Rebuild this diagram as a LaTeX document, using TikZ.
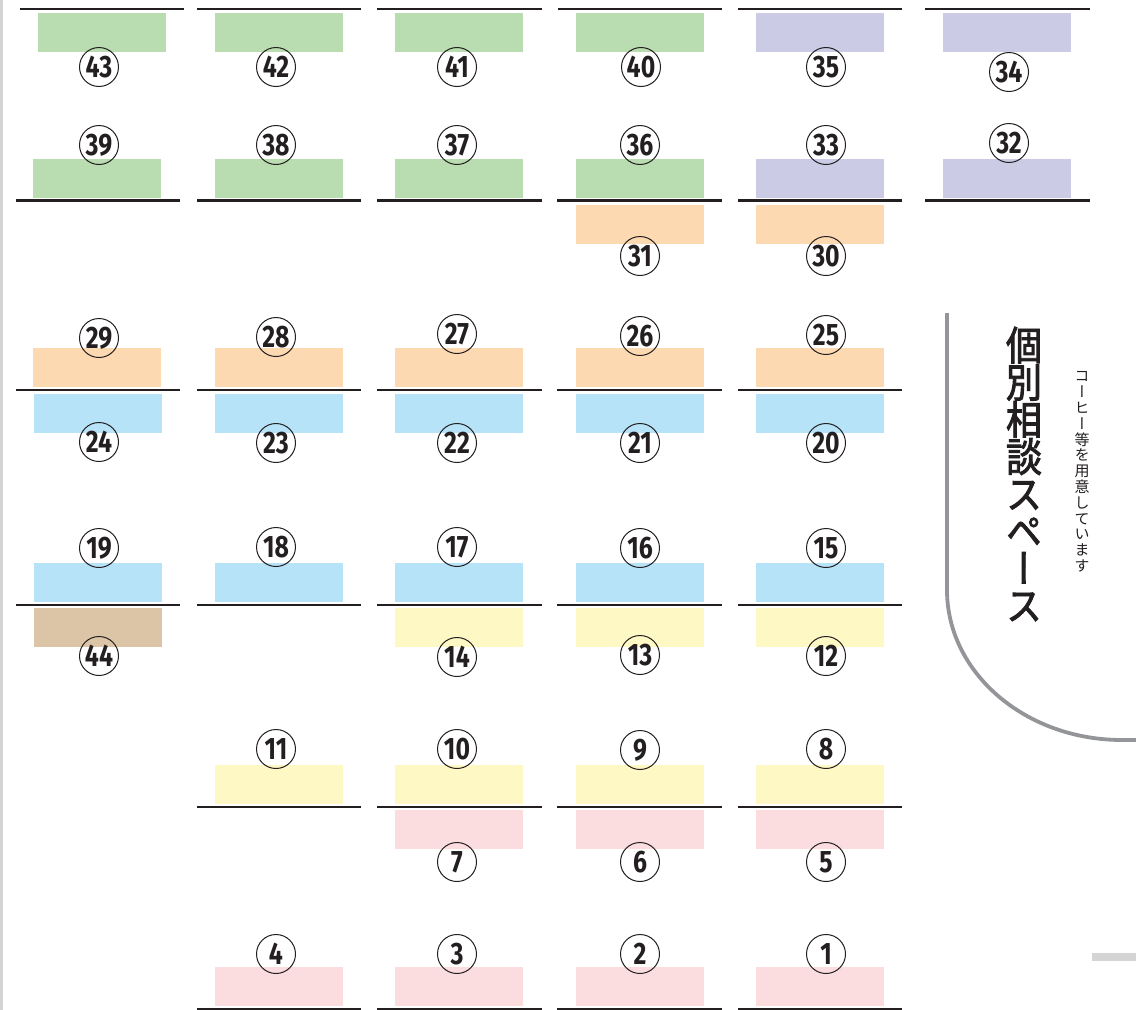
\documentclass[tikz,border=0pt]{standalone}
\usepackage{fontspec}
\newfontfamily\numfont[FakeStretch=0.8]{Fira Sans}
\newfontfamily\jpvert[RawFeature=+vert]{Noto Sans CJK JP}
\newfontfamily\jpbig[RawFeature=+vert,FakeStretch=0.9]{Noto Sans CJK JP}
\definecolor{cgreen}{HTML}{B9DCB0}
\definecolor{cpurple}{HTML}{CCCBE6}
\definecolor{corange}{HTML}{FDD9B1}
\definecolor{cblue}{HTML}{B7E3F8}
\definecolor{cyellow}{HTML}{FEF8C4}
\definecolor{cpink}{HTML}{FBDDE0}
\definecolor{ctan}{HTML}{DCC4A6}
\definecolor{cink}{HTML}{231F20}
\definecolor{ccurve}{HTML}{939598}
\definecolor{cedge}{HTML}{D4D4D4}
\begin{document}
\begin{tikzpicture}[x=1pt,y=-1pt,
  seatbox/.style={draw=none,minimum width=128pt,minimum height=39pt,inner sep=0pt},
  seatline/.style={draw=cink,line width=2.7pt},
  num/.style={circle,draw=cink,line width=1pt,minimum size=39pt,inner sep=0pt,
    text=cink,font=\numfont\bfseries\fontsize{31}{31}\selectfont,
    text height=21.3pt,text depth=0pt},
  curve/.style={draw=ccurve,line width=3.8pt}
]
\useasboundingbox (0,0) rectangle (1136,1010);
% left page edge
\fill[cedge] (0,0) rectangle (2.7,1010);
% seat boxes
\foreach \n/\x/\y/\c in {
  43/102/32.5/cgreen, 42/279/32.5/cgreen, 41/459/32.5/cgreen, 40/640/32.5/cgreen, 35/820/32.5/cpurple, 34/1007/32.5/cpurple,
  39/97/178.5/cgreen, 38/279/178.5/cgreen, 37/459/178.5/cgreen, 36/640/178.5/cgreen, 33/820/178.5/cpurple, 32/1007/178.5/cpurple,
  31/640/224.5/corange, 30/820/224.5/corange,
  29/97/367.5/corange, 28/279/367.5/corange, 27/459/367.5/corange, 26/640/367.5/corange, 25/820/367.5/corange,
  24/98/413.5/cblue, 23/279/413.5/cblue, 22/459/413.5/cblue, 21/640/413.5/cblue, 20/820/413.5/cblue,
  19/98/582.5/cblue, 18/279/582.5/cblue, 17/459/582.5/cblue, 16/640/582.5/cblue, 15/820/582.5/cblue,
  44/98/627.5/ctan, 14/459/627.5/cyellow, 13/640/627.5/cyellow, 12/820/627.5/cyellow,
  11/279/784.5/cyellow, 10/459/784.5/cyellow, 9/640/784.5/cyellow, 8/820/784.5/cyellow,
  7/459/829.5/cpink, 6/640/829.5/cpink, 5/820/829.5/cpink,
  4/279/986.5/cpink, 3/459/986.5/cpink, 2/640/986.5/cpink, 1/820/986.5/cpink}
  \node[seatbox,fill=\c] (b\n) at (\x,\y) {};
% table edges
\foreach \a/\b/\y in {
  20/184/9, 197/361/9, 377/542/9, 558/722/9, 738/902/9, 925/1090/9,
  16/180/200.5, 197/361/200.5, 377/542/200.5, 557/722/200.5, 738/902/200.5, 925/1090/200.5,
  16/180/390, 197/361/390, 377/542/390, 557/722/390, 738/902/390,
  16/180/605, 197/361/605, 377/542/605, 557/722/605, 738/902/605,
  197/361/807, 377/542/807, 557/722/807, 738/902/807,
  197/361/1009, 377/542/1009, 557/722/1009, 738/902/1009}
  \draw[seatline] (\a,\y) -- (\b,\y);
% seat numbers
\foreach \n/\x/\y in {
  43/99/67, 42/276/67, 41/457/67, 40/641/67, 35/826/67, 34/1009/72,
  39/99/145, 38/276/145, 37/457/145, 36/640/145, 33/826/145, 32/1009/143,
  31/640/256, 30/826/256,
  29/99/338, 28/276/337, 27/457/334, 26/640/336, 25/826/335,
  24/99/442, 23/276/443, 22/457/443, 21/640/443, 20/826/443,
  19/99/548, 18/276/547, 17/457/547, 16/640/548, 15/826/548,
  44/99/656, 14/457/657, 13/640/655, 12/826/656,
  11/276/749, 10/457/749, 9/640/750, 8/826/749,
  7/457/862, 6/640/862, 5/826/862,
  4/276/954, 3/457/954, 2/640/954, 1/826/954}
  \node[num] (n\n) at (\x,\y) {\n};
% consultation space boundary
\draw[curve] (947,313) -- (947,590) .. controls (947,672.8) and (1025.3,740) .. (1122,740) -- (1140,740);
\fill[cedge] (1092,953) rectangle (1136,961);
% vertical texts
\node[font={\jpbig\fontsize{40}{37.2}\selectfont\lineskiplimit=-100pt},align=center,inner sep=0pt,text=cink] (space) at (1024,474)
  {\special{pdf:literal direct 2 Tr 0.9 w}個\\別\\相\\談\\ス\\ペ\\ー\\ス\special{pdf:literal direct 0 Tr}};
\node[font={\jpvert\fontsize{15}{15.8}\selectfont\lineskiplimit=-100pt},align=center,inner sep=0pt,text=cink] (coffee) at (1082,472)
  {コ\\ー\\ヒ\\ー\\等\\を\\用\\意\\し\\て\\い\\ま\\す};
\end{tikzpicture}
\end{document}
